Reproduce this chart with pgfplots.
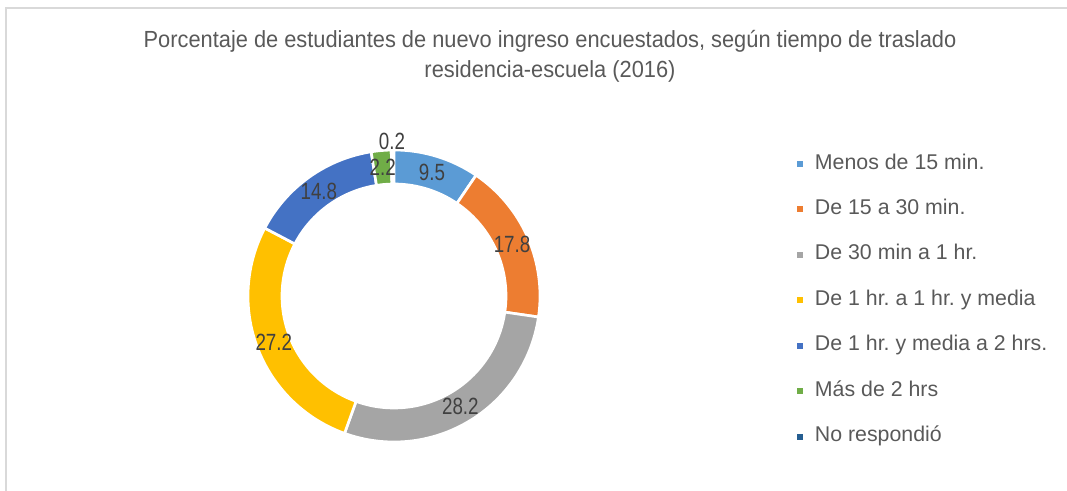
\documentclass[border=0pt]{standalone}
\usepackage{pgfplots}
\pgfplotsset{compat=1.18}
\usepackage{pgfplotstable}
\usepackage{fontspec}
\setmainfont{Liberation Sans}
\usetikzlibrary{calc}
\frenchspacing
\definecolor{c0}{HTML}{5B9BD5}
\definecolor{c1}{HTML}{ED7D31}
\definecolor{c2}{HTML}{A5A5A5}
\definecolor{c3}{HTML}{FFC000}
\definecolor{c4}{HTML}{4472C4}
\definecolor{c5}{HTML}{70AD47}
\definecolor{c6}{HTML}{255E91}
\definecolor{titlegray}{HTML}{595959}
\definecolor{labelgray}{HTML}{404040}
\definecolor{framegray}{HTML}{D9D9D9}

\pgfplotstableread{
idx value
0 9.5
1 17.8
2 28.2
3 27.2
4 14.8
5 2.2
6 0.2
}\datatable

\newcommand\lab[1]{\scalebox{0.8}[1]{\fontsize{17.6}{20}\selectfont #1}}

\begin{document}
\begin{tikzpicture}
\useasboundingbox (0,0) rectangle (800.25pt,367.5pt);
\begin{axis}[
  at={(0,0)}, anchor=origin,
  x=0.75pt, y=0.75pt,
  xmin=0, xmax=1067, ymin=0, ymax=490,
  hide axis, clip=false,
  legend style={draw=none, fill=none, inner sep=0pt,
    at={(axis cs:796,336.6)}, anchor=north west,
    font=\fontsize{16}{19}\selectfont, text=titlegray,
    row sep=19.1pt, column sep=0pt,
    nodes={inner sep=0pt, text height=11.5pt, text depth=3.5pt, anchor=base west,
           font=\fontsize{16}{19}\selectfont},
    cells={anchor=west}},
  legend image code/.code={\fill[#1, draw=none] (0.3pt,1.7pt) rectangle (4.8pt,6.2pt);
     \path[draw=none, fill=none] (0pt,0pt) rectangle (14pt,0pt);},
]
\addlegendimage{c0}\addlegendentry{Menos de 15 min.}
\addlegendimage{c1}\addlegendentry{De 15 a 30 min.}
\addlegendimage{c2}\addlegendentry{De 30 min a 1 hr.}
\addlegendimage{c3}\addlegendentry{De 1 hr. a 1 hr. y media}
\addlegendimage{c4}\addlegendentry{De 1 hr. y media a 2 hrs.}
\addlegendimage{c5}\addlegendentry{Más de 2 hrs}
\addlegendimage{c6}\addlegendentry{No respondió}

\pgfplotsextra{
  \xdef\cum{0}
  \foreach \i in {0,...,6} {
    \pgfplotstablegetelem{\i}{value}\of\datatable
    \let\v\pgfplotsretval
    \pgfmathsetmacro\aone{90-\cum*3.6}
    \pgfmathsetmacro\atwo{90-(\cum+\v)*3.6}
    \fill[c\i, draw=white, line width=2pt]
      (axis cs:394,194) ++(\aone:109.5pt)
      arc[start angle=\aone, end angle=\atwo, radius=109.5pt]
      -- ($(axis cs:394,194)+(\atwo:84pt)$)
      arc[start angle=\atwo, end angle=\aone, radius=84pt] -- cycle;
    \pgfmathsetmacro\newcum{\cum+\v}
    \xdef\cum{\newcum}
  }
  \xdef\cum{0}
  \foreach \i in {0,...,6} {
    \pgfplotstablegetelem{\i}{value}\of\datatable
    \let\v\pgfplotsretval
    \pgfmathsetmacro\amid{90-(\cum+\v/2)*3.6}
    \ifnum\i=6
      \node[text=labelgray, inner sep=0pt] at (axis cs:392,349) {\lab{\v}};
    \else
      \node[text=labelgray, inner sep=0pt] at ($(axis cs:394,194)+(\amid:96.75pt)$) {\lab{\v}};
    \fi
    \pgfmathsetmacro\newcum{\cum+\v}
    \xdef\cum{\newcum}
  }
  \draw[framegray, line width=1.5pt] (axis cs:6,-10) -- (axis cs:6,482) -- (axis cs:1080,482);
  \node[text=titlegray, align=center, inner sep=0pt]
    at (axis cs:550,433) {\scalebox{0.935}[1]{\fontsize{17.5}{22.5}\selectfont\begin{tabular}{@{}c@{}}Porcentaje de estudiantes de nuevo ingreso encuestados, según tiempo de traslado\\residencia-escuela (2016)\end{tabular}}};
}
\end{axis}
\end{tikzpicture}
\end{document}
